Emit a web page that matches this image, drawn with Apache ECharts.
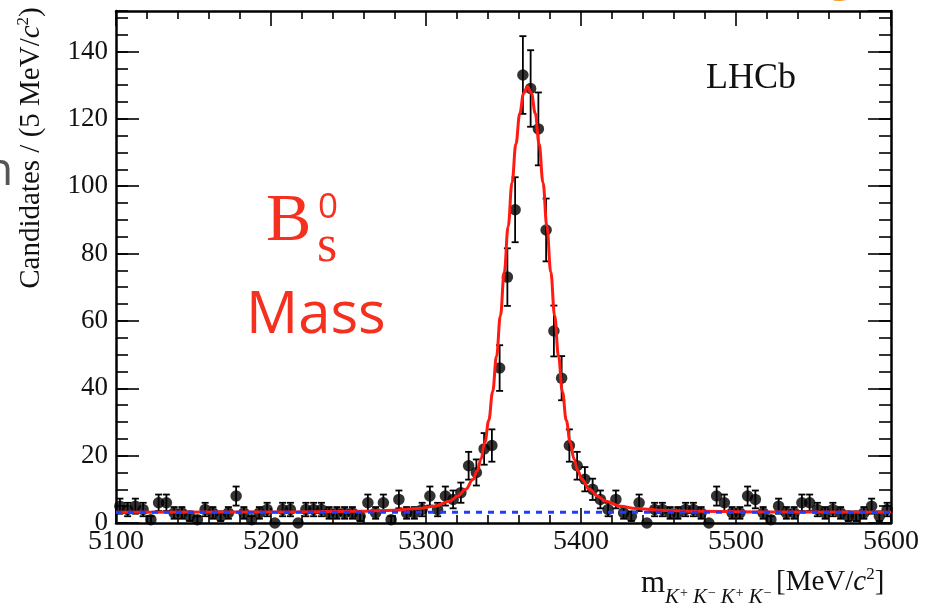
<!DOCTYPE html>
<html><head><meta charset="utf-8">
<script src="https://cdn.jsdelivr.net/npm/echarts@6/dist/echarts.min.js"></script>
<style>html,body{margin:0;padding:0;background:#fff}#c{width:938px;height:606px}</style>
</head><body><div id="c"></div>
<script>
// Bin centres (5 MeV bins, 5100-5600)
const binCenters = [
5102.5,5107.5,5112.5,5117.5,5122.5,5127.5,5132.5,5137.5,5142.5,5147.5,
5152.5,5157.5,5162.5,5167.5,5172.5,5177.5,5182.5,5187.5,5192.5,5197.5,
5202.5,5207.5,5212.5,5217.5,5222.5,5227.5,5232.5,5237.5,5242.5,5247.5,
5252.5,5257.5,5262.5,5267.5,5272.5,5277.5,5282.5,5287.5,5292.5,5297.5,
5302.5,5307.5,5312.5,5317.5,5322.5,5327.5,5332.5,5337.5,5342.5,5347.5,
5352.5,5357.5,5362.5,5367.5,5372.5,5377.5,5382.5,5387.5,5392.5,5397.5,
5402.5,5407.5,5412.5,5417.5,5422.5,5427.5,5432.5,5437.5,5442.5,5447.5,
5452.5,5457.5,5462.5,5467.5,5472.5,5477.5,5482.5,5487.5,5492.5,5497.5,
5502.5,5507.5,5512.5,5517.5,5522.5,5527.5,5532.5,5537.5,5542.5,5547.5,
5552.5,5557.5,5562.5,5567.5,5572.5,5577.5,5582.5,5587.5,5592.5,5597.5];
// Candidates per bin
const counts = [
5,4,5,4,1,6,6,3,3,2,
1,4,3,2,3,8,3,1,3,4,
0,4,4,0,4,4,4,3,3,3,
3,2,6,3,6,1,7,3,3,4,
8,4,8,7,9,17,15,22,23,46,
73,93,133,129,117,87,57,43,23,17,
13,10,7,4,7,3,2,6,0,4,
4,3,3,4,4,3,0,8,6,3,
3,8,7,3,1,5,3,3,6,6,
4,3,4,3,2,2,3,5,2,4];
// Fit curve (total)
const fitX = [5100,5215,5255,5280,5295,5305.5,5315.5,5320.5,5325.5,5330.5,5333,5335.5,5338,5340.5,5343,5345.5,5348,5350.5,5353,5355.5,5358,5360.5,5363,5365.5,
5368,5370.5,5373,5375.5,5378,5380.5,5383,5385.5,5388,5390.5,5393,5395.5,5398,5400.5,5405.5,5410.5,5415.5,5425.5,5435.5,5450.5,5475.5,5515.5,5600];
const fitY = [3.2,3.3,3.5,3.8,4.3,5,6.5,8,10,13,15.5,19,24,30.5,39,49.5,61.5,74.5,88,101,112.5,121.6,127.6,129.5,
127.6,121.6,112.5,101,88,74.5,61.5,49.5,39,30.5,24,19,15.5,13,10,8,6.5,5,4.3,3.8,3.5,3.3,3.2];
// Background component
const bkgX = [5100,5600];
const bkgY = [3.2,3.2];
const xTicks = [5100,5200,5300,5400,5500,5600];
const yTicks = [0,20,40,60,80,100,120,140];

const SERIF = '"Liberation Serif","DejaVu Serif",serif';
const SANS = '"Open Sans","Noto Sans",sans-serif';
const RED = '#f5301f';

const chart = echarts.init(document.getElementById('c'), null, {renderer:'canvas'});
const pts = binCenters.map((x,i)=>[x,counts[i]]);
const fit = fitX.map((x,i)=>[x,fitY[i]]);
const bkg = bkgX.map((x,i)=>[x,bkgY[i]]);

function xAx(pos, label){
  return {type:'value', position:pos, min:xTicks[0], max:xTicks[xTicks.length-1], interval:100,
    axisLine:{show:true, onZero:false, lineStyle:{color:'#000', width:2.5}},
    axisTick:{show:true, inside:true, length:15, lineStyle:{color:'#000', width:1.6}},
    minorTick:{show:true, splitNumber:5, length:8, lineStyle:{color:'#000', width:1.6}},
    splitLine:{show:false}, minorSplitLine:{show:false},
    axisLabel:{show:label, fontFamily:SERIF, fontSize:28, color:'#111', margin:5,
      formatter:v=>xTicks.includes(v)?String(v):''}};
}
function yAx(pos, interval, len, label, line){
  return {type:'value', position:pos, min:0, max:152, interval:interval,
    axisLine:{show:line, onZero:false, lineStyle:{color:'#000', width:2.5}},
    axisTick:{show:true, inside:true, length:len, lineStyle:{color:'#000', width:1.6}},
    splitLine:{show:false},
    axisLabel:{show:label, fontFamily:SERIF, fontSize:27, color:'#111', margin:8, showMaxLabel:false,
      formatter:v=>yTicks.includes(v)?String(v):''}};
}

chart.setOption({
  animation:false,
  backgroundColor:'#fff',
  grid:{left:116, right:47, top:11, bottom:83, outerBoundsMode:'none', containLabel:false},
  xAxis:[xAx('bottom', true), xAx('top', false)],
  yAxis:[yAx('left',20,23,true,true), yAx('left',5,12,false,false), yAx('right',20,23,false,true), yAx('right',5,12,false,false)],
  series:[
    {type:'custom', name:'err', xAxisIndex:0, yAxisIndex:0, data:pts, z:2,
      renderItem:function(params, api){
        const x=api.value(0), n=api.value(1), e=Math.sqrt(n);
        const lo=api.coord([x, Math.max(0,n-e)]), hi=api.coord([x, n+e]);
        const c=3.5, st={stroke:'#000', lineWidth:1.8};
        return {type:'group', children:[
          {type:'line', shape:{x1:lo[0],y1:lo[1],x2:hi[0],y2:hi[1]}, style:st},
          {type:'line', shape:{x1:hi[0]-c,y1:hi[1],x2:hi[0]+c,y2:hi[1]}, style:st},
          {type:'line', shape:{x1:lo[0]-c,y1:lo[1],x2:lo[0]+c,y2:lo[1]}, style:st}
        ]};
      }},
    {type:'scatter', name:'data', data:pts, symbol:'circle', symbolSize:11.5, itemStyle:{color:'#000'}, z:3, silent:true},
    {type:'line', name:'fit', data:fit, smooth:0.4, smoothMonotone:'x', showSymbol:false, symbol:'none',
      lineStyle:{color:'#ff1a12', width:3}, z:4},
    {type:'line', name:'bkg', data:bkg, showSymbol:false, symbol:'none',
      lineStyle:{color:'#1f3cff', width:3, type:[6,6]}, z:5}
  ],
  graphic:[
    {type:'text', left:706, top:61, style:{text:'LHCb', font:'36px '+SERIF, fill:'#111'}},
    {type:'text', x:31, y:148, rotation:Math.PI/2, style:{text:'Candidates / (5 MeV/{i|c}{p|2})', font:'29px '+SERIF, fill:'#111',
      align:'center', verticalAlign:'middle', rich:{i:{fontStyle:'italic', fontSize:29, fontFamily:SERIF, lineHeight:32},
      p:{fontSize:17, fontFamily:SERIF, lineHeight:32, verticalAlign:'top'}}}},
    {type:'text', x:641, y:584, style:{text:'m', font:'31px '+SERIF, fill:'#111', verticalAlign:'middle'}},
    {type:'text', x:664, y:597, style:{text:'{k|K}{s|+}{k|K}{s|−}{k|K}{s|+}{k|K}{s|−}', fill:'#111', verticalAlign:'middle',
      rich:{k:{fontSize:21, fontStyle:'italic', fontFamily:SERIF, lineHeight:22, padding:[0,1,0,1]},
            s:{fontSize:14, fontFamily:SERIF, lineHeight:22, verticalAlign:'top', padding:[0,4,0,0]}}}},
    {type:'text', x:776, y:582, style:{text:'[MeV/{i|c}{p|2}]', font:'29px '+SERIF, fill:'#111', verticalAlign:'middle',
      rich:{i:{fontStyle:'italic', fontSize:29, fontFamily:SERIF, lineHeight:32}, p:{fontSize:17, fontFamily:SERIF, lineHeight:32, verticalAlign:'top'}}}},
    {type:'text', x:266, y:222, style:{text:'B', font:'68px '+SERIF, fill:RED, verticalAlign:'middle'}},
    {type:'text', x:318, y:208, style:{text:'0', font:'35px '+SANS, fill:RED, verticalAlign:'middle'}},
    {type:'text', x:317, y:247, style:{text:'s', font:'52px '+SERIF, fill:RED, verticalAlign:'middle'}},
    {type:'text', x:246, y:316, style:{text:'Mass', font:'58px '+SANS, fill:RED, verticalAlign:'middle'}},
    {type:'text', x:-15, y:172, style:{text:'n', font:'46px '+SANS, fill:'#555', verticalAlign:'middle'}},
    {type:'text', x:798, y:-46, style:{text:'ng', font:'bold 46px '+SANS, fill:'#f29a2c', verticalAlign:'top'}}
  ]
});
</script></body></html>
